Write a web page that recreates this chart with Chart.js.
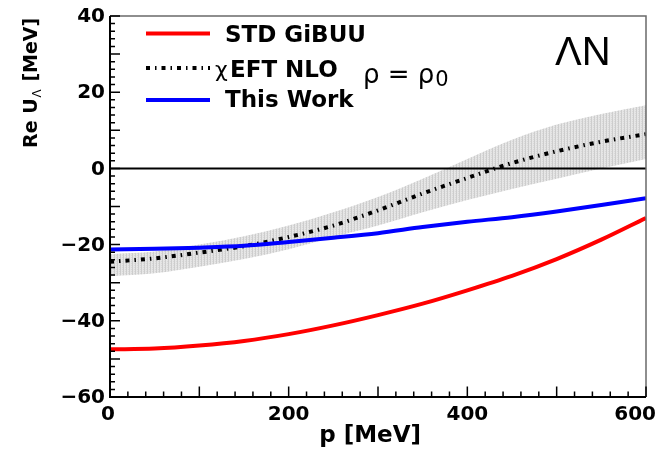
<!DOCTYPE html>
<html>
<head>
<meta charset="utf-8">
<script src="https://cdn.jsdelivr.net/npm/chart.js@4.4.1/dist/chart.umd.min.js"></script>
<style>
    html, body { margin: 0; padding: 0; background: #ffffff; }
    #potential { display: block; }
</style>
</head>
<body>
<canvas id="potential" width="660" height="451"></canvas>
<script>
// Lambda single-particle potential vs. momentum at rho = rho0
const momentum = [0, 50, 100, 150, 200, 250, 300, 350, 400, 450, 500, 550, 600];
const stdGibuu = [-47.5, -47.3, -46.5, -45.3, -43.5, -41.2, -38.5, -35.5, -32, -28.2, -23.8, -18.7, -13];
const chiEftNlo = [-24.5, -23.6, -22.1, -20.4, -18, -15, -11, -6.6, -2.5, 1.4, 4.5, 7, 9];
const chiEftUpper = [-22.5, -21.8, -20, -17.8, -15, -11.5, -7.5, -2.7, 2.5, 7.5, 11.5, 14.3, 16.6];
const chiEftLower = [-28.3, -27.5, -25.8, -23.8, -21.2, -18, -15, -11.5, -8.3, -5.4, -2.7, 0, 2.5];
const thisWork = [-21.3, -21.1, -20.8, -20.3, -19.3, -18.2, -17, -15.4, -14, -12.8, -11.3, -9.6, -7.8];
const zeroLine = [0, 0];
const zeroLineP = [0, 600];

const xTickLabels = [0, 200, 400, 600];
const yTickLabels = [40, 20, 0, -20, -40, -60];

const BOLD = "'DejaVu Sans'";

function toPoints(xs, ys) {
    return xs.map((x, i) => ({ x: x, y: ys[i] }));
}

function fmt(v) {
    return v < 0 ? '\u2212' + Math.abs(v) : String(v);
}

// fine grey vertical mesh for the uncertainty band
function bandPattern(ctx) {
    const tile = document.createElement('canvas');
    tile.width = 3;
    tile.height = 2;
    const t = tile.getContext('2d');
    t.fillStyle = '#e6e6e6';
    t.fillRect(0, 0, 3, 2);
    t.fillStyle = '#cdcdcd';
    t.fillRect(0, 0, 1, 2);
    t.fillStyle = '#d9d9d9';
    t.fillRect(2, 1, 1, 1);
    return ctx.createPattern(tile, 'repeat');
}

// axes, inward ticks, titles, legend and labels
const framePlugin = {
    id: 'frame',
    afterDraw(chart) {
        const ctx = chart.ctx;
        const xs = chart.scales.x;
        const ys = chart.scales.y;
        const { left, right, top, bottom } = chart.chartArea;
        ctx.save();

        // top / right border
        ctx.strokeStyle = '#6a6a6a';
        ctx.lineWidth = 1.5;
        ctx.beginPath();
        ctx.moveTo(left, top);
        ctx.lineTo(right, top);
        ctx.lineTo(right, bottom);
        ctx.stroke();

        // left / bottom axes
        ctx.strokeStyle = '#000';
        ctx.lineWidth = 2;
        ctx.beginPath();
        ctx.moveTo(left, top);
        ctx.lineTo(left, bottom);
        ctx.lineTo(right, bottom);
        ctx.stroke();

        // ticks
        ctx.lineWidth = 1.5;
        ctx.beginPath();
        for (let v = -60; v <= 40; v += 2) {
            const py = ys.getPixelForValue(v);
            const len = v % 10 === 0 ? 10 : 5;
            ctx.moveTo(left, py);
            ctx.lineTo(left + len, py);
        }
        for (let v = 0; v <= 600; v += 20) {
            const px = xs.getPixelForValue(v);
            const len = v % 100 === 0 ? 10.5 : 5.5;
            ctx.moveTo(px, bottom);
            ctx.lineTo(px, bottom - len);
        }
        ctx.stroke();

        // tick labels
        ctx.fillStyle = '#000';
        ctx.font = 'bold 20px ' + BOLD;
        ctx.textAlign = 'right';
        ctx.textBaseline = 'middle';
        yTickLabels.forEach(v => {
            ctx.fillText(fmt(v), left - 5, ys.getPixelForValue(v) + 1);
        });
        ctx.textAlign = 'center';
        ctx.textBaseline = 'alphabetic';
        xTickLabels.forEach(v => {
            const s = fmt(v);
            const w = ctx.measureText(s).width;
            let px = xs.getPixelForValue(v);
            px = Math.min(px, chart.width - 4 - w / 2);
            ctx.fillText(s, px - (v === 0 ? 2 : 0), 420);
        });

        // x title
        ctx.font = 'bold 23px ' + BOLD;
        ctx.textAlign = 'right';
        ctx.fillText('p [MeV]', 421, 442);

        // y title, rotated, with subscript Lambda
        ctx.save();
        ctx.translate(37, 148);
        ctx.rotate(-Math.PI / 2);
        ctx.textAlign = 'left';
        ctx.textBaseline = 'alphabetic';
        let cx = 0;
        ctx.font = 'bold 19px ' + BOLD;
        ctx.fillText('Re U', cx, 0);
        cx += ctx.measureText('Re U').width + 1;
        ctx.font = '12px ' + BOLD;
        ctx.fillText('\u039B', cx, 4);
        cx += ctx.measureText('\u039B').width + 1;
        ctx.font = 'bold 19px ' + BOLD;
        ctx.fillText(' [MeV]', cx, 0);
        ctx.restore();

        // legend
        const rows = [
            { ds: chart.data.datasets.find(d => d.label === 'STD GiBUU'), y: 33.5, base: 42 },
            { ds: chart.data.datasets.find(d => d.label === '\u03C7EFT NLO'), y: 68, base: 76.5 },
            { ds: chart.data.datasets.find(d => d.label === 'This Work'), y: 100, base: 107 }
        ];
        rows.forEach(r => {
            ctx.save();
            ctx.strokeStyle = r.ds.borderColor;
            ctx.lineWidth = r.ds.borderWidth;
            ctx.setLineDash(r.ds.borderDash || []);
            ctx.beginPath();
            ctx.moveTo(146, r.y);
            ctx.lineTo(210, r.y);
            ctx.stroke();
            ctx.restore();
        });
        ctx.fillStyle = '#000';
        ctx.textAlign = 'left';
        ctx.textBaseline = 'alphabetic';
        ctx.font = 'bold 23px ' + BOLD;
        ctx.fillText('STD GiBUU', 225, rows[0].base);
        ctx.font = '22px ' + BOLD;
        ctx.fillText('\u03C7', 215, rows[1].base);
        ctx.font = 'bold 23px ' + BOLD;
        ctx.fillText('EFT NLO', 230, rows[1].base);
        ctx.fillText('This Work', 225, rows[2].base);

        // density note
        ctx.font = '26px ' + BOLD;
        ctx.fillText('\u03C1 = \u03C1', 363, 83);
        const rw = ctx.measureText('\u03C1 = \u03C1').width;
        ctx.font = '21px ' + BOLD;
        ctx.fillText('0', 363 + rw + 1, 86);

        // channel label
        ctx.font = "40px 'Liberation Sans'";
        ctx.fillText('\u039BN', 555, 65);

        ctx.restore();
    }
};

const ctx = document.getElementById('potential').getContext('2d');

new Chart(ctx, {
    type: 'line',
    data: {
        datasets: [
            {
                label: 'This Work',
                data: toPoints(momentum, thisWork),
                borderColor: '#0000ff',
                borderWidth: 4,
                pointRadius: 0,
                cubicInterpolationMode: 'monotone',
                fill: false,
                order: 0
            },
            {
                label: 'STD GiBUU',
                data: toPoints(momentum, stdGibuu),
                borderColor: '#ff0000',
                borderWidth: 4,
                pointRadius: 0,
                cubicInterpolationMode: 'monotone',
                fill: false,
                order: 1
            },
            {
                label: '\u03C7EFT NLO',
                data: toPoints(momentum, chiEftNlo),
                borderColor: '#000000',
                borderWidth: 4,
                borderDash: [4, 5, 1.5, 5],
                borderCapStyle: 'butt',
                pointRadius: 0,
                cubicInterpolationMode: 'monotone',
                fill: false,
                order: 2
            },
            {
                label: 'zero',
                data: toPoints(zeroLineP, zeroLine),
                borderColor: '#000000',
                borderWidth: 2,
                pointRadius: 0,
                fill: false,
                order: 3
            },
            {
                label: 'band lower',
                data: toPoints(momentum, chiEftLower),
                borderWidth: 0,
                borderColor: 'rgba(0,0,0,0)',
                pointRadius: 0,
                cubicInterpolationMode: 'monotone',
                fill: false,
                order: 5
            },
            {
                label: 'band upper',
                data: toPoints(momentum, chiEftUpper),
                borderWidth: 0,
                borderColor: 'rgba(0,0,0,0)',
                backgroundColor: bandPattern(ctx),
                pointRadius: 0,
                cubicInterpolationMode: 'monotone',
                fill: '-1',
                order: 4
            }
        ]
    },
    options: {
        responsive: false,
        animation: false,
        layout: {
            padding: { left: 110, top: 16, right: 14, bottom: 54 }
        },
        plugins: {
            legend: { display: false },
            tooltip: { enabled: false }
        },
        scales: {
            x: { type: 'linear', min: 0, max: 600, display: false },
            y: { type: 'linear', min: -60, max: 40, display: false }
        }
    },
    plugins: [framePlugin]
});
</script>
</body>
</html>
